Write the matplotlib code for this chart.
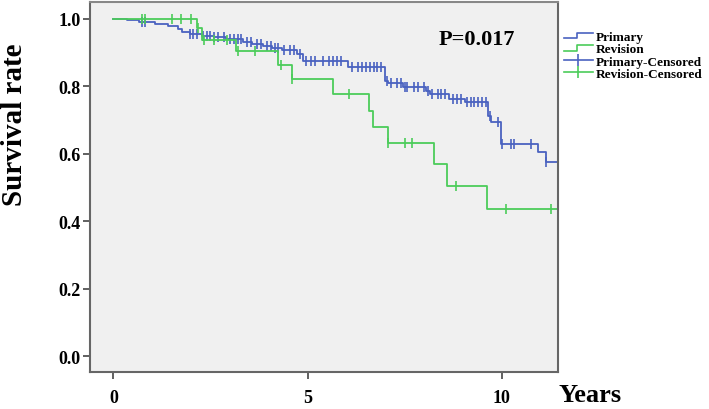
import matplotlib.pyplot as plt
from matplotlib.legend_handler import HandlerBase
from matplotlib.lines import Line2D
import numpy as np

# Kaplan-Meier steps (time in years, survival after the step)
primary_t = [0, 0.35, 0.65, 1.08, 1.41, 1.67, 1.77, 1.98, 2.28, 2.6, 2.9, 3.34, 3.56, 3.86,
             4.08, 4.34, 4.72, 4.89, 6.05, 7.0, 7.08, 7.46, 8.06, 8.15, 8.65, 9.05, 9.65,
             9.73, 9.99, 10.93, 11.15]
primary_s = [1.0, 0.995, 0.99, 0.985, 0.979, 0.97, 0.962, 0.955, 0.95, 0.945, 0.94, 0.932,
             0.926, 0.92, 0.914, 0.908, 0.896, 0.875, 0.858, 0.817, 0.809, 0.797, 0.785,
             0.777, 0.763, 0.753, 0.713, 0.693, 0.629, 0.604, 0.577]
primary_cens = [0.74, 0.82, 1.98, 2.05, 2.15, 2.3, 2.4, 2.5, 2.6, 2.7, 2.85, 3.0, 3.1, 3.2,
                3.3, 3.45, 3.55, 3.7, 3.8, 3.95, 4.05, 4.15, 4.25, 4.4, 4.55, 4.65, 4.8,
                4.95, 5.1, 5.2, 5.4, 5.55, 5.65, 5.75, 5.85, 6.15, 6.3, 6.4, 6.5, 6.6, 6.7,
                6.8, 6.9, 7.05, 7.15, 7.3, 7.4, 7.5, 7.55, 7.75, 7.85, 8.0, 8.1, 8.2, 8.35,
                8.45, 8.55, 8.75, 8.85, 8.95, 9.1, 9.2, 9.3, 9.4, 9.5, 9.6, 9.7, 9.9, 10.0,
                10.25, 10.33, 10.76, 11.15]
primary_end = 11.45

revision_t = [0, 2.15, 2.28, 3.16, 4.25, 4.59, 5.66, 6.59, 6.68, 7.08, 8.26, 8.6, 9.61]
revision_s = [1.0, 0.972, 0.936, 0.904, 0.864, 0.822, 0.777, 0.728, 0.678, 0.632, 0.570,
              0.505, 0.436]
revision_cens = [0.74, 0.82, 1.5, 1.75, 2.0, 2.17, 2.34, 2.6, 2.92, 3.22, 3.65, 4.31, 4.59,
                 6.08, 7.08, 7.51, 7.68, 8.83, 10.1, 11.26]
revision_end = 11.45

labels = ["Primary", "Revision", "Primary-Censored", "Revision-Censored"]
blue = "#4a62c0"
green = "#4ccc5a"
serif = "Liberation Serif"


def surv_at(times, vals, t):
    idx = np.searchsorted(times, t, side="right") - 1
    return np.array(vals)[idx]


class StepHandler(HandlerBase):
    # little step glyph, like the SPSS legend
    def create_artists(self, legend, orig, xd, yd, w, h, fs, trans):
        xs = [xd, xd + w * 0.45, xd + w * 0.45, xd + w]
        ys = [yd + h * 0.2, yd + h * 0.2, yd + h * 0.8, yd + h * 0.8]
        return [Line2D(xs, ys, color=orig.get_color(), lw=1.2, transform=trans)]


fig = plt.figure(figsize=(7.09, 4.10), dpi=100)
ax = fig.add_axes([0.127, 0.09, 0.66, 0.903])
ax.set_facecolor("#f0f0f0")

for t, s, c, end, col in [(primary_t, primary_s, primary_cens, primary_end, blue),
                          (revision_t, revision_s, revision_cens, revision_end, green)]:
    ax.step(t + [end], s + [s[-1]], where="post", color=col, lw=1.3)
    ax.plot(c, surv_at(t, s, c), ls="none", marker="|", ms=7, mew=1.2, color=col)

ax.text(9.36, 0.94, "P=0.017", fontsize=16, fontweight="bold", family=serif,
        ha="center", va="center")

ax.set_xlim(-0.6, 11.45)
ax.set_ylim(-0.047, 1.05)
ax.set_xticks([0, 5, 10])
ax.set_yticks([0, 0.2, 0.4, 0.6, 0.8, 1.0])
ax.set_yticklabels(["0.0", "0.2", "0.4", "0.6", "0.8", "1.0"])
for lab in ax.get_xticklabels() + ax.get_yticklabels():
    lab.set_family(serif)
    lab.set_fontweight("bold")
    lab.set_fontsize(13)
ax.tick_params(length=5, width=1.2, color="#444444", pad=2)
ax.tick_params(axis="x", pad=7)
for sp in ax.spines.values():
    sp.set_color("#666666")
    sp.set_linewidth(1.5)
ax.spines["top"].set_color("#888888")

fig.text(0.021, 0.695, "Survival rate", rotation=90, fontsize=21, fontweight="bold",
         family=serif, ha="center", va="center")
fig.text(0.832, 0.035, "Years", fontsize=19, fontweight="bold", family=serif,
         ha="center", va="center")

handles = [Line2D([], [], color=blue), Line2D([], [], color=green),
           Line2D([], [], color=blue, marker="|", ms=8, mew=1.2, lw=1.2),
           Line2D([], [], color=green, marker="|", ms=8, mew=1.2, lw=1.2)]
fig.legend(handles, labels, loc="upper left", bbox_to_anchor=(0.788, 0.935), frameon=False,
           prop={"family": serif, "weight": "bold", "size": 9.5},
           handlelength=2.2, handletextpad=0.2, labelspacing=0.0, borderaxespad=0,
           handler_map={handles[0]: StepHandler(), handles[1]: StepHandler()})

fig.savefig("out.png", dpi=100)
